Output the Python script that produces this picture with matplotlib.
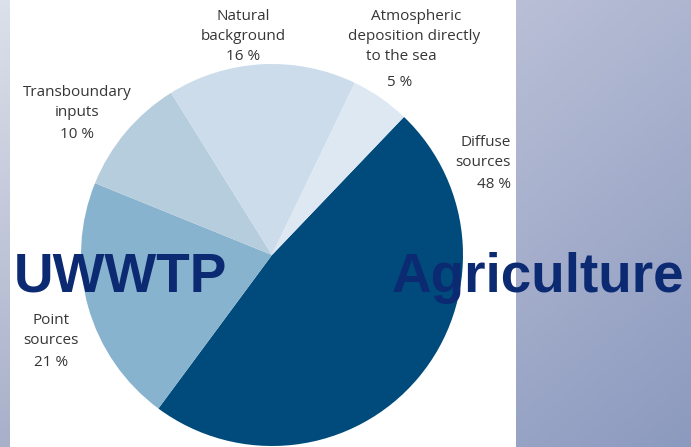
import matplotlib
matplotlib.use("Agg")
import matplotlib.pyplot as plt
import numpy as np
from matplotlib.colors import LinearSegmentedColormap

W, H = 691, 447

sources = ["Diffuse sources", "Point sources", "Transboundary inputs",
           "Natural background", "Atmospheric deposition directly to the sea"]
shares = [48, 21, 10, 16, 5]
colors = ["#004b7c", "#88b3cf", "#b6cddd", "#ccdcea", "#dee8f2"]

# label lines and positions in pixel coords (x, y from top)
labels = [
    (["Diffuse", "sources", "48 %"], 511, [143, 163, 184], "right"),
    (["Point", "sources", "21 %"], 51, [321, 341, 362], "center"),
    (["Transboundary", "inputs", "10 %"], 77, [93, 113, 134], "center"),
    (["Natural", "background", "16 %"], 243, [17, 37, 57], "center"),
]
atmos_lines = [("Atmospheric", 416, 17), ("deposition directly", 414, 37),
               ("to the sea", 401, 57), ("5 %", 400, 82)]

fig = plt.figure(figsize=(W / 100, H / 100), dpi=100)
ax = fig.add_axes([0, 0, 1, 1])

# background panels
left = LinearSegmentedColormap.from_list("l", ["#dce0ea", "#a8b0ca"])
ax.imshow(np.linspace(0, 1, 100).reshape(-1, 1), cmap=left, aspect="auto",
          extent=(0, 10, 0, H), origin="upper", zorder=0)
right = LinearSegmentedColormap.from_list("r", ["#b9bfd6", "#8c9abf"])
gx, gy = np.meshgrid(np.linspace(0, 1, 60), np.linspace(0, 1, 100))
ax.imshow(0.25 * gx + 0.75 * gy, cmap=right, aspect="auto",
          extent=(516, W, 0, H), origin="upper", zorder=0)

ax.pie(shares, colors=colors, startangle=46.3, counterclock=False,
       center=(272, H - 255), radius=191, frame=True,
       wedgeprops={"linewidth": 0})

ax.set_xlim(0, W)
ax.set_ylim(0, H)
ax.set_aspect("auto")
ax.axis("off")

font = ["Open Sans", "DejaVu Sans"]
for lines, x, ys, ha in labels:
    for txt, y in zip(lines, ys):
        ax.text(x, H - y, txt, ha=ha, va="center", fontsize=11,
                color="#363636", family=font)
for txt, x, y in atmos_lines:
    ax.text(x, H - y, txt, ha="center", va="center", fontsize=11,
            color="#363636", family=font)

big = dict(fontsize=39.5, fontweight="bold", color="#0b2a72",
           family=["Liberation Sans", "DejaVu Sans"], va="baseline")
ax.text(14, H - 292, "UWWTP", ha="left", **big)
ax.text(392, H - 292, "Agriculture", ha="left", **big)

fig.savefig("out.png", dpi=100)
